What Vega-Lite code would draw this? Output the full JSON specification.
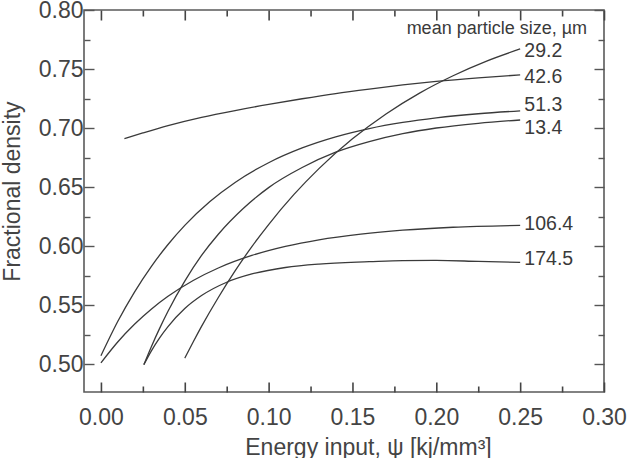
{
  "$schema": "https://vega.github.io/schema/vega-lite/v6.json",
  "width": 520,
  "height": 382,
  "autosize": {"type": "none"},
  "padding": {"left": 84, "top": 10, "right": 29, "bottom": 66},
  "background": "white",
  "config": {
    "view": {"stroke": "#5a5a5a", "strokeWidth": 1.6},
    "font": "Liberation Sans",
    "axis": {
      "domain": false,
      "grid": false,
      "ticks": true,
      "tickColor": "#555555",
      "tickWidth": 1.4,
      "labelFont": "Liberation Sans",
      "labelFontSize": 23,
      "labelColor": "#444444",
      "titleFont": "Liberation Sans",
      "titleFontSize": 23,
      "titleFontWeight": "normal",
      "titleColor": "#444444"
    },
    "axisX": {"tickColor": "#444444", "tickWidth": 1.6, "tickRound": false, "zindex": 2}
  },
  "resolve": {"axis": {"x": "independent", "y": "independent"}},
  "datasets": {
    "curves": [
      {"size": "13.4", "psi": 0.0256, "rho": 0.4995},
      {"size": "13.4", "psi": 0.030, "rho": 0.5145},
      {"size": "13.4", "psi": 0.035, "rho": 0.5302},
      {"size": "13.4", "psi": 0.040, "rho": 0.5447},
      {"size": "13.4", "psi": 0.050, "rho": 0.5703},
      {"size": "13.4", "psi": 0.060, "rho": 0.5920},
      {"size": "13.4", "psi": 0.070, "rho": 0.6100},
      {"size": "13.4", "psi": 0.085, "rho": 0.6320},
      {"size": "13.4", "psi": 0.100, "rho": 0.6495},
      {"size": "13.4", "psi": 0.120, "rho": 0.6665},
      {"size": "13.4", "psi": 0.140, "rho": 0.6795},
      {"size": "13.4", "psi": 0.160, "rho": 0.6885},
      {"size": "13.4", "psi": 0.180, "rho": 0.6952},
      {"size": "13.4", "psi": 0.200, "rho": 0.7000},
      {"size": "13.4", "psi": 0.225, "rho": 0.7040},
      {"size": "13.4", "psi": 0.250, "rho": 0.7068},

      {"size": "29.2", "psi": 0.050, "rho": 0.5050},
      {"size": "29.2", "psi": 0.055, "rho": 0.5187},
      {"size": "29.2", "psi": 0.060, "rho": 0.5319},
      {"size": "29.2", "psi": 0.070, "rho": 0.5564},
      {"size": "29.2", "psi": 0.080, "rho": 0.5789},
      {"size": "29.2", "psi": 0.090, "rho": 0.5995},
      {"size": "29.2", "psi": 0.100, "rho": 0.6182},
      {"size": "29.2", "psi": 0.115, "rho": 0.6435},
      {"size": "29.2", "psi": 0.130, "rho": 0.6656},
      {"size": "29.2", "psi": 0.150, "rho": 0.6908},
      {"size": "29.2", "psi": 0.170, "rho": 0.7119},
      {"size": "29.2", "psi": 0.190, "rho": 0.7296},
      {"size": "29.2", "psi": 0.210, "rho": 0.7443},
      {"size": "29.2", "psi": 0.230, "rho": 0.7567},
      {"size": "29.2", "psi": 0.250, "rho": 0.7670},

      {"size": "42.6", "psi": 0.014, "rho": 0.6910},
      {"size": "42.6", "psi": 0.025, "rho": 0.6958},
      {"size": "42.6", "psi": 0.040, "rho": 0.7020},
      {"size": "42.6", "psi": 0.060, "rho": 0.7090},
      {"size": "42.6", "psi": 0.080, "rho": 0.7148},
      {"size": "42.6", "psi": 0.100, "rho": 0.7200},
      {"size": "42.6", "psi": 0.120, "rho": 0.7248},
      {"size": "42.6", "psi": 0.140, "rho": 0.7292},
      {"size": "42.6", "psi": 0.160, "rho": 0.7330},
      {"size": "42.6", "psi": 0.180, "rho": 0.7365},
      {"size": "42.6", "psi": 0.200, "rho": 0.7395},
      {"size": "42.6", "psi": 0.225, "rho": 0.7425},
      {"size": "42.6", "psi": 0.250, "rho": 0.7450},

      {"size": "51.3", "psi": 0.000, "rho": 0.5070},
      {"size": "51.3", "psi": 0.010, "rho": 0.5360},
      {"size": "51.3", "psi": 0.020, "rho": 0.5610},
      {"size": "51.3", "psi": 0.030, "rho": 0.5826},
      {"size": "51.3", "psi": 0.040, "rho": 0.6013},
      {"size": "51.3", "psi": 0.050, "rho": 0.6175},
      {"size": "51.3", "psi": 0.065, "rho": 0.6377},
      {"size": "51.3", "psi": 0.080, "rho": 0.6539},
      {"size": "51.3", "psi": 0.100, "rho": 0.6706},
      {"size": "51.3", "psi": 0.120, "rho": 0.6831},
      {"size": "51.3", "psi": 0.140, "rho": 0.6925},
      {"size": "51.3", "psi": 0.160, "rho": 0.6995},
      {"size": "51.3", "psi": 0.180, "rho": 0.7047},
      {"size": "51.3", "psi": 0.200, "rho": 0.7086},
      {"size": "51.3", "psi": 0.225, "rho": 0.7121},
      {"size": "51.3", "psi": 0.250, "rho": 0.7145},

      {"size": "106.4", "psi": 0.000, "rho": 0.5010},
      {"size": "106.4", "psi": 0.010, "rho": 0.5187},
      {"size": "106.4", "psi": 0.020, "rho": 0.5337},
      {"size": "106.4", "psi": 0.030, "rho": 0.5465},
      {"size": "106.4", "psi": 0.040, "rho": 0.5574},
      {"size": "106.4", "psi": 0.055, "rho": 0.5708},
      {"size": "106.4", "psi": 0.070, "rho": 0.5814},
      {"size": "106.4", "psi": 0.090, "rho": 0.5920},
      {"size": "106.4", "psi": 0.110, "rho": 0.5997},
      {"size": "106.4", "psi": 0.130, "rho": 0.6053},
      {"size": "106.4", "psi": 0.155, "rho": 0.6101},
      {"size": "106.4", "psi": 0.180, "rho": 0.6134},
      {"size": "106.4", "psi": 0.210, "rho": 0.6159},
      {"size": "106.4", "psi": 0.250, "rho": 0.6175},

      {"size": "174.5", "psi": 0.0256, "rho": 0.4995},
      {"size": "174.5", "psi": 0.030, "rho": 0.5110},
      {"size": "174.5", "psi": 0.035, "rho": 0.5222},
      {"size": "174.5", "psi": 0.040, "rho": 0.5317},
      {"size": "174.5", "psi": 0.050, "rho": 0.5470},
      {"size": "174.5", "psi": 0.060, "rho": 0.5580},
      {"size": "174.5", "psi": 0.075, "rho": 0.5693},
      {"size": "174.5", "psi": 0.090, "rho": 0.5763},
      {"size": "174.5", "psi": 0.110, "rho": 0.5818},
      {"size": "174.5", "psi": 0.130, "rho": 0.5847},
      {"size": "174.5", "psi": 0.160, "rho": 0.5867},
      {"size": "174.5", "psi": 0.180, "rho": 0.5877},
      {"size": "174.5", "psi": 0.200, "rho": 0.5878},
      {"size": "174.5", "psi": 0.225, "rho": 0.5870},
      {"size": "174.5", "psi": 0.250, "rho": 0.5862}
    ],
    "endLabels": [
      {"size": "29.2", "psi": 0.2525, "rho": 0.7655},
      {"size": "42.6", "psi": 0.2525, "rho": 0.7432},
      {"size": "51.3", "psi": 0.2525, "rho": 0.7197},
      {"size": "13.4", "psi": 0.2525, "rho": 0.7000},
      {"size": "106.4", "psi": 0.2525, "rho": 0.6190},
      {"size": "174.5", "psi": 0.2525, "rho": 0.5888}
    ],
    "header": [
      {"text": "mean particle size, µm", "psi": 0.2899, "rho": 0.7839}
    ]
  },
  "layer": [
    {
      "data": {"name": "curves"},
      "mark": {"type": "line", "interpolate": "monotone", "color": "#3a3a3a", "strokeWidth": 1.3},
      "encoding": {
        "x": {
          "field": "psi", "type": "quantitative",
          "scale": {"domain": [-0.0101, 0.30], "nice": false, "zero": false},
          "axis": {
            "orient": "bottom",
            "title": "Energy input, ψ [kj/mm³]",
            "values": [0, 0.05, 0.1, 0.15, 0.2, 0.25, 0.3],
            "format": ".2f",
            "tickSize": -10,
            "labelPadding": 24,
            "labelFlush": false,
            "labelOverlap": false,
            "titleX": 284,
            "titleY": 62,
            "titleAnchor": null,
            "titleAlign": "center",
            "titleBaseline": "alphabetic"
          }
        },
        "y": {
          "field": "rho", "type": "quantitative",
          "scale": {"domain": [0.4763, 0.80], "nice": false, "zero": false},
          "axis": {
            "orient": "left",
            "title": "Fractional density",
            "values": [0.5, 0.55, 0.6, 0.65, 0.7, 0.75, 0.8],
            "format": ".2f",
            "tickSize": -10,
            "labelPadding": 11,
            "labelFlush": false,
            "labelOverlap": false,
            "titleX": -65,
            "titleY": 181,
            "titleAngle": -90,
            "titleAnchor": null,
            "titleAlign": "center",
            "titleBaseline": "alphabetic"
          }
        },
        "detail": {"field": "size", "type": "nominal"}
      }
    },
    {
      "data": {"name": "endLabels"},
      "transform": [{"filter": "datum.rho > 0.71"}],
      "mark": {"type": "text", "align": "left", "baseline": "middle", "fontSize": 19.5, "color": "#3a3a3a"},
      "encoding": {
        "x": {
          "field": "psi", "type": "quantitative",
          "axis": {"orient": "top", "title": null, "labels": false, "tickSize": -10,
                   "values": [0, 0.05, 0.1, 0.15, 0.2, 0.25, 0.3]}
        },
        "y": {
          "field": "rho", "type": "quantitative",
          "axis": {"orient": "right", "title": null, "labels": false, "tickSize": -10,
                   "values": [0.5, 0.55, 0.6, 0.65, 0.7, 0.75, 0.8]}
        },
        "text": {"field": "size", "type": "nominal"}
      }
    },
    {
      "data": {"name": "endLabels"},
      "transform": [{"filter": "datum.rho < 0.71"}],
      "mark": {"type": "text", "align": "left", "baseline": "middle", "fontSize": 19.5, "color": "#3a3a3a"},
      "encoding": {
        "x": {
          "field": "psi", "type": "quantitative",
          "axis": {"orient": "top", "title": null, "labels": false, "tickSize": -6,
                   "values": [0.025, 0.075, 0.125, 0.175, 0.225, 0.275]}
        },
        "y": {
          "field": "rho", "type": "quantitative",
          "axis": {"orient": "right", "title": null, "labels": false, "tickSize": -6,
                   "values": [0.525, 0.575, 0.625, 0.675, 0.725, 0.775]}
        },
        "text": {"field": "size", "type": "nominal"}
      }
    },
    {
      "data": {"name": "header"},
      "mark": {"type": "text", "align": "right", "baseline": "middle", "fontSize": 18, "color": "#3a3a3a"},
      "encoding": {
        "x": {
          "field": "psi", "type": "quantitative",
          "axis": {"orient": "bottom", "title": null, "labels": false, "tickSize": -6,
                   "values": [0.025, 0.075, 0.125, 0.175, 0.225, 0.275]}
        },
        "y": {
          "field": "rho", "type": "quantitative",
          "axis": {"orient": "left", "title": null, "labels": false, "tickSize": -6,
                   "values": [0.525, 0.575, 0.625, 0.675, 0.725, 0.775]}
        },
        "text": {"field": "text", "type": "nominal"}
      }
    }
  ]
}
